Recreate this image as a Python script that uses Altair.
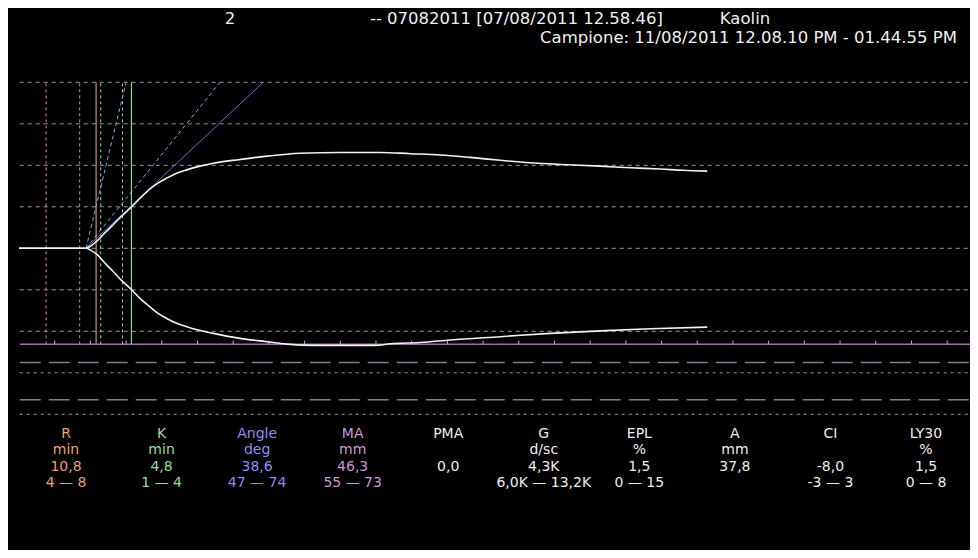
import altair as alt
import pandas as pd

# ---------------- data (time in minutes, amplitude in mm from the centre line) -------------
upper_t = [0, 9.38, 10.08, 10.88, 11.90, 13.03, 14.29, 15.78, 17.09, 18.35, 19.47, 20.69,
           21.99, 23.49, 25.35, 27.21, 30.95, 34.69, 39.36, 45.0, 50.6, 54.8, 59.0, 63.2,
           67.4, 71.6, 75.8, 81.4, 85.6, 89.8, 93.0, 96.4]
upper_mm = [0, 0, 0.6, 1.7, 3.5, 5.4, 7.6, 10.0, 12.3, 14.3, 15.7, 16.9,
            18.0, 18.9, 19.8, 20.5, 21.4, 22.2, 22.9, 23.1, 23.1, 22.8, 22.5, 21.9,
            21.2, 20.6, 20.2, 19.8, 19.4, 19.1, 18.8, 18.6]
lower_t = [0, 9.38, 10.08, 10.88, 11.90, 13.03, 14.29, 15.78, 17.09, 18.35, 19.47, 20.69,
           21.99, 23.49, 25.35, 27.21, 30.95, 34.69, 37.49, 41.46, 50.0, 52.0, 56.2, 60.4,
           67.4, 74.4, 81.4, 88.4, 96.4]
lower_mm = [0, 0, -0.5, -1.4, -3.3, -5.3, -7.6, -10.0, -12.3, -14.1, -15.7, -16.9,
            -18.0, -18.9, -19.8, -20.5, -21.7, -22.5, -23.1, -23.4, -23.4, -23.0, -22.7, -22.1,
            -21.3, -20.5, -19.9, -19.4, -19.0]

angle_start_t = 9.38
angle_end_t = [34.2, 15.0, 28.15]          # solid (measured), dashed normal limits
angle_kind = ["value", "norm", "norm"]
angle_end_mm = 40

r_norm_t = [3.8, 8.5]
r_value_t = 10.8
k_norm_t = [11.45, 14.5]
k_value_t = 15.75

grid_mm = [40, 30, 20, 10, 0, -10, -20]
grid_fine_mm = [-30, -40]
ma_half_mm = -23.15
ma_norm_mm = [-27.5, -36.5]
tick_t = [5, 10, 15, 20, 25, 30, 35, 40, 45, 50, 55, 60, 65, 70, 75, 80, 85, 90, 95,
          100, 105, 110, 115, 120, 125, 130]
t_end = 133.2

params = ["R", "K", "Angle", "MA", "PMA", "G", "EPL", "A", "CI", "LY30"]
units = ["min", "min", "deg", "mm", "", "d/sc", "%", "mm", "", "%"]
values = ["10,8", "4,8", "38,6", "46,3", "0,0", "4,3K", "1,5", "37,8", "-8,0", "1,5"]
ranges = ["4 — 8", "1 — 4", "47 — 74", "55 — 73", "", "6,0K — 13,2K", "0 — 15", "",
          "-3 — 3", "0 — 8"]
param_colors = ["#e8a070", "#98de98", "#8e8ef0", "#c898d6", "#eeeeee", "#eeeeee",
                "#eeeeee", "#eeeeee", "#eeeeee", "#eeeeee"]

header_id = "2"
header_test = "-- 07082011 [07/08/2011 12.58.46]"
header_reagent = "Kaolin"
header_sample = "Campione: 11/08/2011 12.08.10 PM - 01.44.55 PM"

# ---------------- styling -------------
BG = "#000000"
GRID = "#9c9c9c"
TRACE = "#f2f2f2"
ORANGE = "#d9905e"
GREEN = "#8fdc8f"
BLUE = "#6c6cc8"
BLUE_D = "#88a4e0"
PURPLE = "#9c70a8"
PURPLE_D = "#8e7498"
FONT = "DejaVu Sans"

W, H = 962, 542
xs = alt.Scale(domain=[0, t_end], range=[11, 962])
ys = alt.Scale(domain=[-40, 40], range=[406.3, 74.3])


def X(f):
    return alt.X(f, type="quantitative", scale=xs, axis=None)


def Y(f):
    return alt.Y(f, type="quantitative", scale=ys, axis=None)


# ---------------- tables -------------
trace = pd.concat([
    pd.DataFrame({"t": upper_t, "mm": upper_mm, "side": "upper"}),
    pd.DataFrame({"t": lower_t, "mm": lower_mm, "side": "lower"}),
])

hgrid = pd.DataFrame({"mm": grid_mm, "t0": 0.1, "t1": t_end})
hfine = pd.DataFrame({"mm": grid_fine_mm, "t0": 0.1, "t1": t_end})
ma_line = pd.DataFrame({"mm": [ma_half_mm], "t0": 0.1, "t1": t_end})
ma_norm = pd.DataFrame({"mm": ma_norm_mm, "t0": 0.1, "t1": t_end})
ticks = pd.DataFrame({"t": tick_t, "y0": ma_half_mm, "y1": ma_half_mm + 0.9})

angle = pd.DataFrame({"t0": angle_start_t, "m0": 0, "t1": angle_end_t,
                      "m1": angle_end_mm, "kind": angle_kind})

vlines = pd.DataFrame({
    "t": r_norm_t + [r_value_t] + k_norm_t + [k_value_t],
    "kind": ["rn", "rn", "rv", "kn", "kn", "kv"],
    "y0": ma_half_mm, "y1": angle_end_mm,
})

rows = []
for i in range(len(params)):
    for r, txt in enumerate([params[i], units[i], values[i], ranges[i]]):
        rows.append({"col": i, "row": r, "txt": txt, "color": param_colors[i]})
table = pd.DataFrame(rows)

# ---------------- layers -------------
grid_l = alt.Chart(hgrid).mark_rule(color=GRID, strokeDash=[4, 4], strokeWidth=1).encode(
    x=X("t0"), x2="t1", y=Y("mm"))
fine_l = alt.Chart(hfine).mark_rule(color=GRID, strokeDash=[3, 4], strokeWidth=1).encode(
    x=X("t0"), x2="t1", y=Y("mm"))
ma_l = alt.Chart(ma_line).mark_rule(color=PURPLE, strokeWidth=1.5).encode(
    x=X("t0"), x2="t1", y=Y("mm"))
man_l = alt.Chart(ma_norm).mark_rule(color=PURPLE_D, strokeDash=[21, 8], strokeWidth=1.5).encode(
    x=X("t0"), x2="t1", y=Y("mm"))
tick_l = alt.Chart(ticks).mark_rule(color="#b8b8b8", strokeWidth=1).encode(
    x=X("t"), y=Y("y0"), y2="y1")

vl = alt.Chart(vlines)
rn_l = vl.transform_filter("datum.kind == 'rn'").mark_rule(
    color=ORANGE, strokeDash=[3, 3], strokeWidth=1).encode(x=X("t"), y=Y("y0"), y2="y1")
rv_l = vl.transform_filter("datum.kind == 'rv'").mark_rule(
    color=ORANGE, strokeWidth=1.2).encode(x=X("t"), y=Y("y0"), y2="y1")
kn_l = vl.transform_filter("datum.kind == 'kn'").mark_rule(
    color=GREEN, strokeDash=[3, 3], strokeWidth=1).encode(x=X("t"), y=Y("y0"), y2="y1")
kv_l = vl.transform_filter("datum.kind == 'kv'").mark_rule(
    color=GREEN, strokeWidth=1.2).encode(x=X("t"), y=Y("y0"), y2="y1")

al = alt.Chart(angle)
av_l = al.transform_filter("datum.kind == 'value'").mark_rule(
    color=BLUE, strokeWidth=1).encode(x=X("t0"), x2="t1", y=Y("m0"), y2="m1")
an_l = al.transform_filter("datum.kind == 'norm'").mark_rule(
    color=BLUE_D, strokeDash=[4, 3], strokeWidth=1).encode(x=X("t0"), x2="t1", y=Y("m0"), y2="m1")

trace_l = alt.Chart(trace).mark_line(color=TRACE, strokeWidth=1.6, interpolate="monotone").encode(
    x=X("t"), y=Y("mm"), detail="side:N")

table_l = alt.Chart(table).mark_text(font=FONT, fontSize=14, baseline="middle", align="center").encode(
    x=alt.X("col:Q", scale=alt.Scale(domain=[0, 9], range=[58, 918]), axis=None),
    y=alt.Y("row:Q", scale=alt.Scale(domain=[0, 3], range=[425.5, 475]), axis=None),
    text="txt:N",
    color=alt.Color("color:N", scale=None),
)


def head(txt, x, y):
    return alt.Chart(pd.DataFrame({"v": [0]})).mark_text(
        font=FONT, fontSize=16.5, color="#f0f0f0", baseline="alphabetic", align="center"
    ).encode(x=alt.value(x), y=alt.value(y), text=alt.value(txt))


chart = alt.layer(
    grid_l, fine_l, man_l, ma_l, tick_l,
    rn_l, rv_l, kn_l, kv_l, an_l, av_l, trace_l,
    table_l,
    head(header_id, 222, 16), head(header_test, 508.5, 16), head(header_reagent, 737, 16),
    head(header_sample, 740.5, 35),
).resolve_scale(x="independent", y="independent").properties(
    width=W, height=H, autosize="none", padding=0, background=BG
).configure_view(stroke=None)

chart.save("out.html", embed_options={"renderer": "svg", "actions": False})
